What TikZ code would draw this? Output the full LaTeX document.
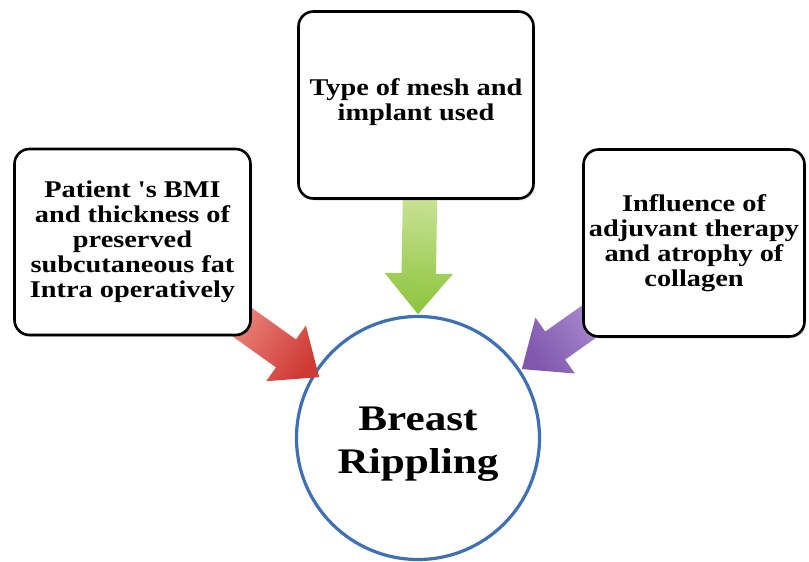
\documentclass[tikz,border=0pt]{standalone}
\usepackage{fontspec}
\setmainfont{Liberation Serif}
\newfontfamily\boxserif[FakeStretch=1.18]{Liberation Serif}
\newfontfamily\ripserif[FakeStretch=1.2]{Liberation Serif}
\usetikzlibrary{shapes.arrows,shadows,calc}
\definecolor{ringblue}{RGB}{64,112,180}
\definecolor{gLight}{RGB}{200,226,148}
\definecolor{gDark}{RGB}{140,196,60}
\definecolor{rLight}{RGB}{236,140,130}
\definecolor{rDark}{RGB}{206,58,52}
\definecolor{pLight}{RGB}{178,150,214}
\definecolor{pDark}{RGB}{128,88,174}
\tikzset{
  box/.style={draw=black, line width=2.6pt, rounded corners=15pt, fill=white,
    align=center, inner sep=0pt,
    font=\boxserif\bfseries\fontsize{24pt}{25pt}\selectfont,
    drop shadow={shadow xshift=1.5pt, shadow yshift=-2pt, opacity=0.25}},
  ring/.style={circle, draw=ringblue, line width=3.2pt, fill=white, inner sep=0pt},
  riptext/.style={align=center, inner sep=0pt,
    font=\ripserif\bfseries\fontsize{36pt}{43pt}\selectfont},
  blockarrow/.style={single arrow, draw=none, inner xsep=0pt, inner ysep=17pt,
    single arrow head extend=17pt, single arrow tip angle=80, single arrow head indent=0pt}
}
\newcommand\blockarrow[4]{%
  \path let \p1=(#1), \p2=(#2), \n1={atan2(\y2-\y1,\x2-\x1)}, \n2={veclen(\x2-\x1,\y2-\y1)} in
    node[blockarrow, top color=#3, bottom color=#4, shading angle=\n1+90,
      minimum height=\n2, rotate=\n1, anchor=tail]
      at (#1) {};%
}
\begin{document}
\begin{tikzpicture}[x=1pt,y=-1pt]
\useasboundingbox[fill=white] (0,0) rectangle (809,562);
% centre
\node[ring, minimum size=243pt] (rip) at (418,438) {};
\node[riptext] (riptitle) at ([yshift=-6pt]rip.center) {Breast\\Rippling};
% arrow ends
\coordinate (gs) at (420,198);
\coordinate (gt) at (418,314);
\coordinate (rs) at (228,312);
\coordinate (rt) at (319,377);
\coordinate (ps) at (614,304);
\coordinate (pt) at (522,369);
\blockarrow{gs}{gt}{gLight}{gDark}
\blockarrow{rs}{rt}{rLight}{rDark}
\blockarrow{ps}{pt}{pLight}{pDark}
% boxes
\node[box, minimum width=236pt, minimum height=186pt] (left) at (132.5,242)
  {Patient 's BMI\\and thickness of\\preserved\\subcutaneous fat\\Intra operatively};
\node[box, minimum width=235pt, minimum height=187pt, text depth=10pt] (top) at (416,105)
  {Type of mesh and\\implant used};
\node[box, minimum width=221pt, minimum height=187pt] (right) at (694,243)
  {Influence of\\adjuvant therapy\\and atrophy of\\collagen};
\end{tikzpicture}
\end{document}
